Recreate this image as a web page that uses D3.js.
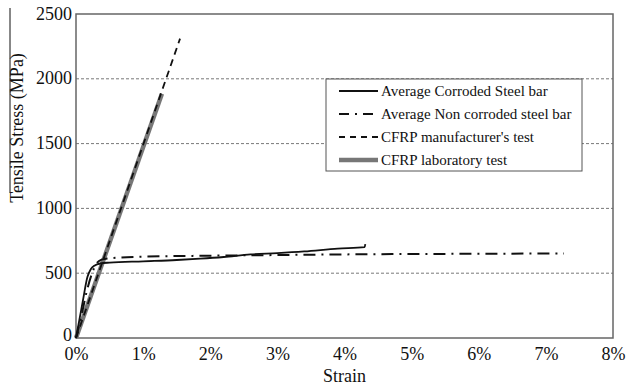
<!DOCTYPE html>
<html>
<head>
<meta charset="utf-8">
<script src="https://cdn.jsdelivr.net/npm/d3@7"></script>
<style>
  body { margin: 0; background: #fff; }
  svg text { font-family: "Liberation Serif", "Times New Roman", Times, "DejaVu Serif", serif; fill: #111; }
</style>
</head>
<body>
<div id="chart"></div>
<script>
// strain in %, stress in MPa
const xTicks = [0, 1, 2, 3, 4, 5, 6, 7, 8];
const yTicks = [0, 500, 1000, 1500, 2000, 2500];
const gridValues = [500, 1000, 1500, 2000];

const corrodedStrain = [0, 0.05, 0.1, 0.17, 0.22, 0.28, 0.36, 0.5, 1.0, 1.5, 1.85, 2.2, 2.6, 3.0, 3.4, 3.9, 4.3, 4.31];
const corrodedStress = [0, 140, 280, 470, 530, 560, 575, 582, 592, 602, 612, 625, 645, 655, 668, 690, 702, 725];

const nonCorrodedStrain = [0, 0.08, 0.16, 0.24, 0.3, 0.38, 0.5, 1.0, 2.0, 3.0, 4.0, 5.0, 6.0, 7.27];
const nonCorrodedStress = [0, 170, 360, 500, 570, 605, 615, 628, 635, 640, 645, 648, 650, 652];

const manufStrain = [0, 1.55];
const manufStress = [0, 2310];

const labStrain = [0, 1.28];
const labStress = [0, 1885];

const legendLabels = [
  "Average Corroded Steel bar",
  "Average Non corroded steel bar",
  "CFRP manufacturer's test",
  "CFRP laboratory test"
];

const serif = "'Liberation Serif', 'Times New Roman', Times, 'DejaVu Serif', serif";
const width = 626, height = 386;
const margin = { top: 14, right: 13, bottom: 48, left: 76 };

const svg = d3.select("#chart")
  .append("svg")
  .attr("width", width)
  .attr("height", height)
  .style("font-family", serif);

const x = d3.scaleLinear().domain([0, 8]).range([margin.left, width - margin.right]);
const y = d3.scaleLinear().domain([0, 2500]).range([height - margin.bottom, margin.top]);

// grid
svg.selectAll(".grid")
  .data(gridValues)
  .enter()
  .append("line")
  .attr("x1", x(0)).attr("x2", x(8))
  .attr("y1", d => y(d)).attr("y2", d => y(d))
  .attr("stroke", "#555")
  .attr("stroke-width", 0.8)
  .attr("stroke-dasharray", "3,2");

// frame
svg.append("rect")
  .attr("x", x(0)).attr("y", y(2500))
  .attr("width", x(8) - x(0)).attr("height", y(0) - y(2500))
  .attr("fill", "none")
  .attr("stroke", "#666")
  .attr("stroke-width", 1.5);

// axes (labels only)
const xAxis = svg.append("g")
  .attr("transform", "translate(0," + y(0) + ")")
  .call(d3.axisBottom(x).tickValues(xTicks).tickFormat(d => d + "%").tickSize(0).tickPadding(9));
xAxis.attr("font-family", serif);
xAxis.select(".domain").remove();
xAxis.selectAll("text").style("font-size", "18px").style("font-family", serif);

const yAxis = svg.append("g")
  .attr("transform", "translate(" + x(0) + ",0)")
  .call(d3.axisLeft(y).tickValues(yTicks).tickFormat(d3.format("d")).tickSize(0).tickPadding(4));
yAxis.attr("font-family", serif);
yAxis.select(".domain").remove();
yAxis.selectAll("text").style("font-size", "18px").style("font-family", serif)
  .attr("dy", d => d === 0 ? "0.15em" : "0.28em");

// axis titles
svg.append("text")
  .attr("x", x(4)).attr("y", 382)
  .attr("text-anchor", "middle")
  .style("font-size", "18px")
  .text("Strain");

svg.append("text")
  .attr("transform", "translate(23,128) rotate(-90)")
  .attr("text-anchor", "middle")
  .style("font-size", "18px")
  .text("Tensile  Stress (MPa)");

// scan edge line
svg.append("line")
  .attr("x1", 10).attr("x2", 10).attr("y1", 8).attr("y2", 193)
  .attr("stroke", "#111").attr("stroke-width", 1);

const line = d3.line()
  .x(d => x(d[0]))
  .y(d => y(d[1]))
  .curve(d3.curveMonotoneX);

const zip = (a, b) => a.map((v, i) => [v, b[i]]);

const series = [
  { pts: zip(labStrain, labStress), color: "#777", width: 4.5, dash: null },
  { pts: zip(manufStrain, manufStress), color: "#111", width: 1.8, dash: "7,5" },
  { pts: zip(nonCorrodedStrain, nonCorrodedStress), color: "#111", width: 2, dash: "12,6,2,6" },
  { pts: zip(corrodedStrain, corrodedStress), color: "#111", width: 1.8, dash: null }
];

svg.selectAll(".series")
  .data(series)
  .enter()
  .append("path")
  .attr("d", d => line(d.pts))
  .attr("fill", "none")
  .attr("stroke", d => d.color)
  .attr("stroke-width", d => d.width)
  .attr("stroke-dasharray", d => d.dash);

// legend
const legendStyles = [
  { color: "#111", width: 2, dash: null },
  { color: "#111", width: 2, dash: "10,6,2,6" },
  { color: "#111", width: 1.8, dash: "6,5" },
  { color: "#777", width: 4.5, dash: null }
];

const legend = svg.append("g").attr("transform", "translate(326,79)");
legend.append("rect")
  .attr("width", 256).attr("height", 92)
  .attr("fill", "#fff")
  .attr("stroke", "#555")
  .attr("stroke-width", 1);

const items = legend.selectAll(".item")
  .data(legendLabels)
  .enter()
  .append("g")
  .attr("transform", (d, i) => "translate(0," + (12 + i * 23) + ")");

items.append("line")
  .attr("x1", 13).attr("x2", 52)
  .attr("y1", 0).attr("y2", 0)
  .attr("stroke", (d, i) => legendStyles[i].color)
  .attr("stroke-width", (d, i) => legendStyles[i].width)
  .attr("stroke-dasharray", (d, i) => legendStyles[i].dash);

items.append("text")
  .attr("x", 55).attr("y", 5)
  .style("font-size", "15px")
  .text(d => d);
</script>
</body>
</html>
